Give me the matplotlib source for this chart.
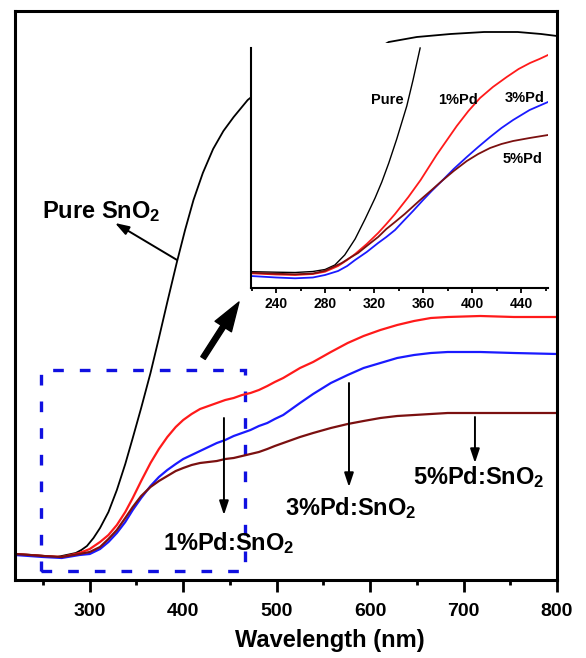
import matplotlib
matplotlib.use('Agg')
import matplotlib.pyplot as plt
from matplotlib.ticker import MultipleLocator
from matplotlib.patches import Rectangle, FancyArrowPatch

plt.rcParams['font.family'] = ['Liberation Sans', 'DejaVu Sans']
plt.rcParams['font.weight'] = 'bold'
plt.rcParams['mathtext.fontset'] = 'custom'
plt.rcParams['mathtext.rm'] = 'Liberation Sans:bold'
plt.rcParams['mathtext.bf'] = 'Liberation Sans:bold'
plt.rcParams['mathtext.it'] = 'Liberation Sans:bold'
plt.rcParams['mathtext.default'] = 'rm'

# ---------------- main panel data (absorbance, a.u.) ----------------
wl_pure = [220, 240, 265, 285, 291, 297, 304, 311, 320, 329, 338, 346, 355, 365, 374, 383, 393,
           402, 411, 421, 432, 443, 454, 469, 485, 500, 525, 550, 580, 605, 620, 650, 686, 722,
           758, 783, 800]
abs_pure = [0.24, 0.23, 0.21, 0.25, 0.28, 0.32, 0.40, 0.50, 0.66, 0.88, 1.14, 1.40, 1.70, 2.05,
            2.40, 2.76, 3.15, 3.48, 3.78, 4.05, 4.29, 4.47, 4.61, 4.78, 4.90, 4.99, 5.10, 5.17,
            5.23, 5.28, 5.36, 5.41, 5.44, 5.46, 5.46, 5.44, 5.42]

wl_1pd = [220, 250, 270, 289, 300, 311, 320, 329, 338, 346, 355, 365, 374, 383, 392, 400, 409,
          418, 427, 436, 445, 454, 463, 472, 481, 490, 498, 507, 516, 525, 539, 558, 576, 593,
          611, 629, 647, 665, 683, 718, 754, 800]
abs_1pd = [0.24, 0.22, 0.21, 0.25, 0.29, 0.36, 0.43, 0.53, 0.66, 0.80, 0.97, 1.15, 1.29, 1.41,
           1.51, 1.58, 1.64, 1.69, 1.72, 1.75, 1.78, 1.80, 1.83, 1.85, 1.88, 1.92, 1.96, 2.00,
           2.05, 2.10, 2.16, 2.26, 2.35, 2.42, 2.48, 2.53, 2.57, 2.60, 2.61, 2.62, 2.61, 2.61]

wl_3pd = [220, 250, 270, 289, 300, 311, 320, 329, 338, 346, 355, 365, 374, 383, 392, 400, 409,
          418, 427, 436, 445, 454, 463, 472, 481, 490, 498, 507, 516, 525, 539, 558, 576, 593,
          611, 629, 647, 665, 683, 718, 754, 800]
abs_3pd = [0.23, 0.21, 0.20, 0.23, 0.24, 0.29, 0.36, 0.45, 0.56, 0.68, 0.80, 0.92, 1.01, 1.08,
           1.14, 1.19, 1.23, 1.27, 1.31, 1.35, 1.38, 1.42, 1.45, 1.48, 1.52, 1.55, 1.59, 1.63,
           1.69, 1.75, 1.84, 1.95, 2.03, 2.10, 2.15, 2.20, 2.23, 2.25, 2.26, 2.26, 2.25, 2.24]

wl_5pd = [220, 250, 270, 289, 300, 311, 320, 329, 338, 346, 355, 365, 374, 383, 392, 400, 409,
          418, 427, 436, 445, 454, 463, 472, 481, 490, 498, 507, 516, 525, 539, 558, 576, 593,
          611, 629, 647, 665, 683, 718, 800]
abs_5pd = [0.24, 0.22, 0.21, 0.24, 0.26, 0.31, 0.39, 0.48, 0.60, 0.71, 0.82, 0.91, 0.97, 1.02,
           1.07, 1.10, 1.13, 1.15, 1.16, 1.17, 1.19, 1.20, 1.22, 1.24, 1.26, 1.29, 1.32, 1.35,
           1.38, 1.41, 1.45, 1.50, 1.54, 1.57, 1.60, 1.62, 1.63, 1.64, 1.65, 1.65, 1.65]

main_labels = [r'Pure SnO$_2$', r'1%Pd:SnO$_2$', r'3%Pd:SnO$_2$', r'5%Pd:SnO$_2$']

# ---------------- inset data ----------------
in_wl_pure = [219.5, 240, 255.5, 270, 280, 288, 296, 304.5, 312.7, 320.8, 326.3, 332, 338.5,
              346.7, 351.8, 357.6]
in_abs_pure = [0.163, 0.158, 0.155, 0.165, 0.185, 0.23, 0.33, 0.49, 0.69, 0.90, 1.06, 1.25, 1.49,
               1.82, 2.08, 2.40]

in_wl_1pd = [219.5, 240, 255.5, 270, 280, 290.6, 298, 304.5, 314, 323.3, 330, 337.1, 348, 358,
             371, 387.5, 397, 406.5, 417, 428.3, 438, 447.3, 455, 462]
in_abs_1pd = [0.147, 0.135, 0.13, 0.14, 0.163, 0.22, 0.28, 0.34, 0.44, 0.55, 0.64, 0.74, 0.91,
              1.08, 1.33, 1.62, 1.77, 1.90, 2.01, 2.11, 2.19, 2.25, 2.29, 2.33]

in_wl_3pd = [219.5, 240, 255.5, 270, 280, 290.6, 298, 304.5, 314, 323.3, 330, 337.1, 344, 351.8,
             360, 367, 375.3, 385, 395.7, 405, 414.7, 424, 433.5, 447, 462]
in_abs_3pd = [0.12, 0.105, 0.097, 0.105, 0.13, 0.17, 0.22, 0.28, 0.36, 0.45, 0.51, 0.58, 0.67,
              0.77, 0.88, 0.97, 1.07, 1.19, 1.31, 1.41, 1.51, 1.60, 1.68, 1.78, 1.86]

in_wl_5pd = [219.5, 240, 255.5, 270, 280, 293.6, 300, 306.9, 315, 323.3, 330, 337.1, 345, 357.6,
             367, 375.3, 385, 395.7, 405, 414.7, 424, 433.5, 447, 462]
in_abs_5pd = [0.153, 0.143, 0.137, 0.145, 0.173, 0.25, 0.30, 0.35, 0.43, 0.51, 0.59, 0.66, 0.74,
              0.88, 0.98, 1.07, 1.17, 1.27, 1.34, 1.40, 1.44, 1.47, 1.50, 1.53]

inset_labels = ['Pure', '1%Pd', '3%Pd', '5%Pd']

c_pure = '#000000'
c_1 = '#ff1a1a'
c_3 = '#1a1aff'
c_5 = '#7b1010'

fig = plt.figure(figsize=(5.86, 6.58), dpi=100)
ax = fig.add_axes([15/586, 78/658, 542/586, 569/658])

ax.plot(wl_pure, abs_pure, color=c_pure, lw=1.3)
ax.plot(wl_1pd, abs_1pd, color=c_1, lw=1.6)
ax.plot(wl_3pd, abs_3pd, color=c_3, lw=1.6)
ax.plot(wl_5pd, abs_5pd, color=c_5, lw=1.6)

ax.set_xlim(220, 800)
ax.set_ylim(-0.02, 5.67)
ax.set_yticks([])
ax.xaxis.set_minor_locator(MultipleLocator(50))
ax.set_xticks([300, 400, 500, 600, 700, 800])
ax.tick_params(axis='x', which='major', direction='out', length=8.5, width=2.0,
               labelsize=14, pad=8)
ax.tick_params(axis='x', which='minor', direction='out', length=3.6, width=2.0)
for s in ax.spines.values():
    s.set_linewidth(2.2)
ax.set_xlabel('Wavelength (nm)', fontsize=17, fontweight='bold', va='center')
ax.xaxis.set_label_coords(0.581, -0.107)

# text labels
ax.text(248.9, 3.60, main_labels[0], fontsize=17, ha='left', va='baseline')
ax.text(378.4, 0.28, main_labels[1], fontsize=17, ha='left', va='baseline')
ax.text(508.9, 0.63, main_labels[2], fontsize=17, ha='left', va='baseline')
ax.text(645.9, 0.94, main_labels[3], fontsize=17, ha='left', va='baseline')

thin = dict(arrowstyle='-|>,head_length=0.6,head_width=0.2', lw=1.4, color='k',
            mutation_scale=14, shrinkA=0, shrinkB=0)
ax.annotate('', xy=(327.0, 3.55), xytext=(393.4, 3.18), arrowprops=thin)
ax.annotate('', xy=(443.6, 0.63), xytext=(443.6, 1.60), arrowprops=thin)
ax.annotate('', xy=(577.4, 0.91), xytext=(577.4, 1.95), arrowprops=thin)
ax.annotate('', xy=(712.2, 1.15), xytext=(712.2, 1.61), arrowprops=thin)

big = FancyArrowPatch(posA=(421.2, 2.20), posB=(459.7, 2.76),
                      arrowstyle='simple,head_length=1.5,head_width=1.0,tail_width=0.27',
                      mutation_scale=14, color='k', shrinkA=0, shrinkB=0)
ax.add_patch(big)

box = Rectangle((247.8, 0.07), 218.3, 2.01, fill=False, edgecolor='#1010e0',
                lw=2.4, linestyle=(0, (3.2, 4.8)))
ax.add_patch(box)

# ---------------- inset ----------------
axin = fig.add_axes([251/586, 370/658, 297/586, 245/658])
axin.set_facecolor('white')
axin.plot(in_wl_pure, in_abs_pure, color=c_pure, lw=1.0)
axin.plot(in_wl_1pd, in_abs_1pd, color=c_1, lw=1.3)
axin.plot(in_wl_3pd, in_abs_3pd, color=c_3, lw=1.3)
axin.plot(in_wl_5pd, in_abs_5pd, color=c_5, lw=1.3)
axin.set_xlim(219.5, 462)
axin.set_ylim(0, 2.45)
axin.set_yticks([])
axin.spines['top'].set_visible(False)
axin.spines['right'].set_visible(False)
axin.spines['left'].set_linewidth(1.5)
axin.spines['left'].set_bounds(0, 2.40)
axin.spines['bottom'].set_linewidth(1.5)
axin.xaxis.set_minor_locator(MultipleLocator(20))
axin.set_xticks([240, 280, 320, 360, 400, 440])
axin.tick_params(axis='x', which='major', direction='out', length=3.6, width=1.3,
                 labelsize=10, pad=3)
axin.tick_params(axis='x', which='minor', direction='out', length=2.2, width=1.3)

axin.text(330.6, 1.88, inset_labels[0], fontsize=10.5, ha='center', va='center')
axin.text(388.6, 1.88, inset_labels[1], fontsize=10.5, ha='center', va='center')
axin.text(443.3, 1.90, inset_labels[2], fontsize=10.5, ha='center', va='center')
axin.text(441.6, 1.29, inset_labels[3], fontsize=10.5, ha='center', va='center')

fig.savefig('out.png', dpi=100)
